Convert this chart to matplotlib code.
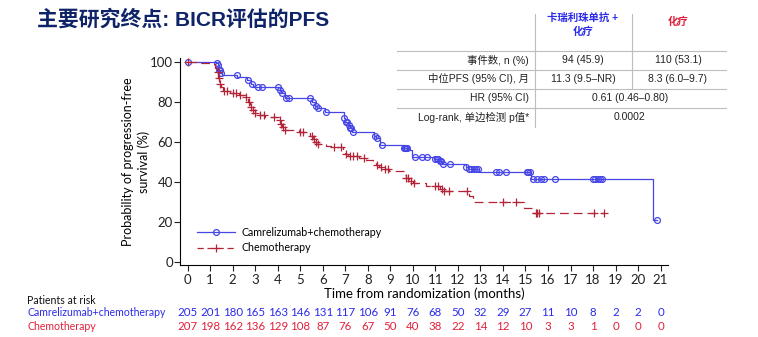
import numpy as np
import matplotlib
matplotlib.use("Agg")
import matplotlib.pyplot as plt

plt.rcParams['font.family'] = ['Lato', 'Noto Sans CJK SC', 'DejaVu Sans']

# ---- data ----
months = list(range(0, 22))

cam_event_t = [1.25, 1.33, 1.38, 1.45, 1.52, 2.2, 2.65, 2.82, 2.9, 4.08, 4.15, 4.3,
               5.5, 5.65, 5.75, 6.1, 6.92, 7.0, 7.1, 7.2, 7.3, 8.28, 8.35, 8.55,
               9.6, 9.75, 9.95, 10.95, 11.15, 11.3, 12.35, 12.5, 12.95, 15.25, 20.65]
cam_event_s = [99.5, 98.5, 96, 94.5, 93.5, 92.5, 91, 89, 87.5, 86, 84.5, 82,
               80, 78, 77, 75.2, 72, 70, 68.5, 67, 65.2, 63, 62, 58.5,
               57, 56, 52.7, 51.5, 50.5, 48.8, 47.5, 46.5, 45.1, 41.3, 20.9]
cam_censor = [0, 1.3, 1.35, 1.4, 1.42, 1.48, 2.17, 2.66, 2.84, 3.13, 3.31, 4.02, 4.1,
              4.17, 4.36, 4.51, 5.43, 5.58, 5.72, 5.8, 6.14, 6.95, 7.02, 7.08, 7.15,
              7.2, 7.27, 7.35, 8.31, 8.39, 8.61, 9.6, 9.64, 9.68, 9.72, 10.09, 10.39,
              10.61, 10.98, 11.05, 11.12, 11.2, 11.27, 11.35, 11.64, 12.35, 12.5, 12.6,
              12.7, 12.82, 12.9, 13.71, 13.82, 14.13, 15.05, 15.12, 15.2, 15.34, 15.52,
              15.67, 15.81, 16.3, 17.98, 18.1, 18.22, 18.32, 18.42, 20.84]

chemo_event_t = [0.55, 1.0, 1.22, 1.3, 1.35, 1.4, 1.48, 1.55, 1.9, 2.3, 2.6, 2.7, 2.78,
                 2.88, 2.98, 3.1, 3.45, 4.05, 4.12, 4.2, 4.28, 4.95, 5.2, 5.45, 5.55,
                 5.65, 5.78, 6.15, 6.35, 6.9, 7.0, 7.1, 7.6, 7.9, 8.25, 8.35, 8.5, 8.7,
                 8.95, 9.6, 9.7, 9.85, 10.0, 10.6, 11.2, 11.35, 12.5, 12.65, 14.95, 15.3]
chemo_event_s = [99.5, 99, 97, 95, 92, 89, 87.5, 85.5, 84.5, 83.5, 82.5, 80, 77.5,
                 76, 74.5, 73.6, 72.8, 71, 69, 67.5, 66, 65.3, 64.6, 63, 61.5,
                 60, 59, 58.2, 57.5, 55.5, 54, 52.8, 52, 51.2, 50, 48.6, 47.5, 46.5,
                 45.3, 43.5, 42, 40.5, 39.3, 38.1, 36.5, 35.5, 33, 29.9, 26.8, 24.6]
chemo_censor = [0, 1.33, 1.38, 1.43, 1.6, 1.75, 2.0, 2.15, 2.32, 2.6, 2.72, 2.8, 2.9,
                3.0, 3.2, 3.4, 3.85, 4.08, 4.15, 4.22, 4.3, 4.98, 5.1, 5.5, 5.6, 5.7,
                5.8, 6.5, 6.8, 7.05, 7.2, 7.35, 7.5, 7.85, 8.4, 8.6, 8.75, 8.9, 9.7,
                9.8, 9.9, 10.05, 11.0, 11.1, 11.3, 11.38, 11.6, 12.4, 13.98, 14.57,
                15.45, 15.5, 15.6, 18.03, 18.48]

cam_risk = [205, 201, 180, 165, 163, 146, 131, 117, 106, 91, 76, 68, 50, 32, 29, 27,
            11, 10, 8, 2, 2, 0]
chemo_risk = [207, 198, 162, 136, 129, 108, 87, 76, 67, 50, 40, 38, 22, 14, 12, 10,
              3, 3, 1, 0, 0, 0]

table_rows = ['事件数, n (%)', '中位PFS (95% CI), 月', 'HR (95% CI)', 'Log-rank, 单边检测 p值*']
table_cam = ['94 (45.9)', '11.3 (9.5–NR)']
table_chemo = ['110 (53.1)', '8.3 (6.0–9.7)']
table_both = ['0.61 (0.46–0.80)', '0.0002']

BLUE = '#4646e6'
RED = '#b32438'
BLUE_TXT = '#2b2be8'
RED_TXT = '#e0203a'
NAVY = '#0f2468'


def km_curve(ev_t, ev_s, censor):
    end = max(ev_t[-1], censor[-1])
    t = np.array([0] + ev_t + [end])
    s = np.array([100] + ev_s + [ev_s[-1]])
    idx = np.searchsorted(t[:-1], np.array(censor), side='right') - 1
    return t, s, np.array(censor), s[idx]


fig = plt.figure(figsize=(7.58, 3.37), dpi=100)
ax = fig.add_axes([0.2375, 0.2136, 0.6435, 0.6144])

t, s, ct, cs = km_curve(cam_event_t, cam_event_s, cam_censor)
ax.step(t, s, where='post', color=BLUE, lw=0.9)
ax.plot(ct, cs, 'o', ms=4.2, mfc='none', mec=BLUE, mew=0.9)
ax.plot([], [], '-o', color=BLUE, lw=0.9, ms=4.2, mfc='none', mew=0.9,
        label='Camrelizumab+chemotherapy')

t2, s2, ct2, cs2 = km_curve(chemo_event_t, chemo_event_s, chemo_censor)
ax.step(t2, s2, where='post', color=RED, lw=0.9, dashes=(7, 4))
ax.plot(ct2, cs2, '+', ms=5.5, mec=RED, mew=0.9)
ax.plot([], [], '+', color=RED, lw=0.9, ms=5.5, mew=0.9, ls=(0, (5, 3)),
        label='Chemotherapy')

ax.set_xlim(-0.34, 21.32)
ax.set_ylim(-1.65, 102.2)
ax.set_xticks(months)
ax.set_yticks([0, 20, 40, 60, 80, 100])
ax.spines['top'].set_visible(False)
ax.spines['right'].set_visible(False)
ax.tick_params(labelsize=9.5, length=4, width=0.8, colors='#222222', pad=2.5)
ax.tick_params(axis='y', pad=1)
ax.set_xlabel('Time from randomization (months)', fontsize=9.5, labelpad=1)
ax.set_ylabel('Probability of progression-free\nsurvival (%)', fontsize=9, labelpad=0,
              linespacing=1.3)
ax.legend(loc='lower left', bbox_to_anchor=(0.015, 0.01), frameon=False, fontsize=7.7,
          handlelength=3.6, handletextpad=0.6, labelspacing=0.4)

# title
fig.text(37 / 758, 1 - 19 / 337, '主要研究终点: BICR评估的PFS', fontsize=15,
         fontweight='bold', color=NAVY, va='center', ha='left',
         family=['Liberation Sans', 'Noto Sans CJK SC'])

# summary table
tf = ['Liberation Sans', 'Noto Sans CJK SC']
W, H = 758, 337
fx = lambda x: x / W
fy = lambda y: 1 - y / H
line_kw = dict(color='#bdbdbd', lw=0.8, transform=fig.transFigure)
for yy in [50.5, 69.5, 88.5, 107.5]:
    fig.add_artist(plt.Line2D([fx(397), fx(726)], [fy(yy), fy(yy)], **line_kw))
fig.add_artist(plt.Line2D([fx(535), fx(535)], [fy(14), fy(127)], **line_kw))
fig.add_artist(plt.Line2D([fx(632), fx(632)], [fy(14), fy(88.5)], **line_kw))
fig.text(fx(583), fy(25), '卡瑞利珠单抗 +\n化疗', ha='center', va='center', fontsize=7.5,
         fontweight='bold', color=BLUE_TXT, family=tf, linespacing=1.5)
fig.text(fx(678), fy(22), '化疗', ha='center', va='center', fontsize=7.5,
         fontweight='bold', color=RED_TXT, family=tf)
row_y = [60, 79, 98, 117]
for i, lab in enumerate(table_rows):
    fig.text(fx(529), fy(row_y[i]), lab, ha='right', va='center', fontsize=7.5,
             color='#222222', family=tf)
for i in range(2):
    fig.text(fx(583), fy(row_y[i]), table_cam[i], ha='center', va='center',
             fontsize=7.5, color='#222222', family=tf)
    fig.text(fx(678), fy(row_y[i]), table_chemo[i], ha='center', va='center',
             fontsize=7.5, color='#222222', family=tf)
    fig.text(fx(630), fy(row_y[i + 2]), table_both[i], ha='center', va='center',
             fontsize=7.5, color='#222222', family=tf)

# patients at risk
fig.text(fx(27), fy(300), 'Patients at risk', fontsize=7.6, va='center', color='#111111')
fig.text(fx(27), fy(313), 'Camrelizumab+chemotherapy', fontsize=7.6, va='center',
         color=BLUE_TXT)
fig.text(fx(27), fy(326), 'Chemotherapy', fontsize=7.6, va='center', color=RED_TXT)
for m, a, b in zip(months, cam_risk, chemo_risk):
    xf = fig.transFigure.inverted().transform(ax.transData.transform((m, 0)))[0]
    fig.text(xf, fy(313), str(a), fontsize=8.3, ha='center', va='center', color=BLUE_TXT)
    fig.text(xf, fy(326), str(b), fontsize=8.3, ha='center', va='center', color=RED_TXT)

fig.savefig('out.png', dpi=100)
